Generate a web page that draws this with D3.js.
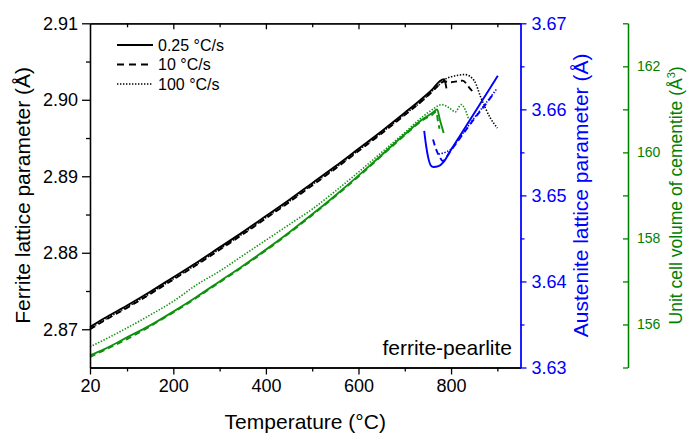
<!DOCTYPE html>
<html lang="en">
  <head>
    <meta charset="utf-8" />
    <title>Lattice parameters vs temperature</title>
    <script src="https://cdnjs.cloudflare.com/ajax/libs/d3/7.8.5/d3.min.js"></script>
    <style>
      body {
        margin: 0;
        background: #ffffff;
        font-family: Arial, "Liberation Sans", sans-serif;
      }
      svg text {
        font-family: Arial, "Liberation Sans", sans-serif;
      }
      .line {
        fill: none;
        stroke-linejoin: round;
      }
    </style>
  </head>
  <body>
    <div id="chart"></div>
    <script>
      // ferrite (left axis, black)
      const ferriteT025 = [20, 50, 100, 150, 200, 250, 300, 350, 400, 450, 500, 550, 600, 650, 700, 740, 760, 775, 785, 790];
      const ferrite025 = [2.8703, 2.8714, 2.8731, 2.8749, 2.8768, 2.8787, 2.8807, 2.8827, 2.8848, 2.8869, 2.8891, 2.8913, 2.8936, 2.8959, 2.8983, 2.9003, 2.9014, 2.9024, 2.9027, 2.9015];
      const ferriteT10 = [20, 50, 100, 150, 200, 250, 300, 350, 400, 450, 500, 550, 600, 650, 700, 740, 760, 775, 785, 800, 825, 838, 850];
      const ferrite10 = [2.87, 2.8711, 2.8728, 2.8746, 2.8765, 2.8784, 2.8804, 2.8824, 2.8845, 2.8866, 2.8888, 2.891, 2.8933, 2.8956, 2.898, 2.9, 2.9011, 2.902, 2.9024, 2.9023, 2.9025, 2.9017, 2.9008];
      const ferriteT100 = [20, 50, 100, 150, 200, 250, 300, 350, 400, 450, 500, 550, 600, 650, 700, 740, 760, 775, 785, 800, 815, 830, 850, 865, 885, 900];
      const ferrite100 = [2.8701, 2.8712, 2.8729, 2.8747, 2.8766, 2.8785, 2.8805, 2.8825, 2.8846, 2.8867, 2.8889, 2.8911, 2.8934, 2.8957, 2.8981, 2.9, 2.9012, 2.902, 2.9026, 2.903, 2.9032, 2.9033, 2.9025, 2.9002, 2.8976, 2.8963];

      // cementite unit cell volume (green axis)
      const cemT025 = [20, 50, 100, 150, 200, 250, 300, 350, 400, 450, 500, 550, 600, 650, 700, 740, 760, 770, 776, 784];
      const cem025 = [155.28, 155.42, 155.7, 155.98, 156.3, 156.64, 157.0, 157.36, 157.74, 158.14, 158.56, 159.0, 159.46, 159.94, 160.42, 160.78, 160.92, 161.0, 160.75, 160.45];
      const cemT10 = [20, 50, 100, 150, 200, 250, 300, 350, 400, 450, 500, 550, 600, 650, 700, 740, 760, 768, 772, 775];
      const cem10 = [155.24, 155.4, 155.66, 155.96, 156.28, 156.62, 156.98, 157.34, 157.72, 158.12, 158.54, 158.98, 159.44, 159.92, 160.4, 160.76, 160.88, 160.95, 160.7, 160.55];
      const cemT100 = [20, 50, 100, 150, 200, 250, 300, 350, 400, 450, 500, 550, 600, 650, 700, 740, 760, 780, 798, 809, 822, 831, 838];
      const cem100 = [155.48, 155.64, 155.92, 156.22, 156.54, 156.92, 157.24, 157.6, 157.96, 158.32, 158.68, 159.1, 159.54, 160.0, 160.46, 160.84, 161.0, 161.11, 161.02, 160.94, 161.11, 160.98, 160.77];

      // austenite (blue axis)
      const ausT025 = [742, 746, 751, 756, 762, 773, 784, 800, 820, 840, 860, 880, 901];
      const aus025 = [3.6575, 3.6558, 3.6543, 3.6535, 3.6533, 3.6534, 3.6539, 3.6553, 3.657, 3.6587, 3.6604, 3.6621, 3.6639];
      const ausT10 = [761, 766, 775, 782, 798, 820, 850, 875, 894];
      const aus10 = [3.6565, 3.6556, 3.6545, 3.654, 3.6551, 3.6567, 3.6589, 3.6606, 3.662];
      const ausT100 = [773, 787, 798, 820, 850, 875, 899];
      const aus100 = [3.6548, 3.655, 3.6553, 3.6568, 3.659, 3.6607, 3.6624];

      const xMajor = [20, 200, 400, 600, 800];
      const xMinor = [100, 300, 500, 700, 900];
      const ferriteTicks = [2.87, 2.88, 2.89, 2.9, 2.91];
      const ferriteMinor = [2.875, 2.885, 2.895, 2.905];
      const ausTicks = [3.63, 3.64, 3.65, 3.66, 3.67];
      const ausMinor = [3.635, 3.645, 3.655, 3.665];
      const cemTicks = [156, 158, 160, 162];
      const cemMinor = [155, 157, 159, 161, 163];

      const rates = ["0.25 °C/s", "10 °C/s", "100 °C/s"];
      const dashes = [null, "6,4", "1.4,1.6"];
      const widths = [1.9, 1.9, 1.6];

      const W = 688, H = 438;
      const mLeft = 90, mRight = 520.5, mTop = 23.3, mBottom = 367.5;
      const greenX = 628;
      const BLUE = "#0000ff", GREEN = "#008000", GREENLINE = "#0e920e";

      const svg = d3.select("#chart").append("svg").attr("width", W).attr("height", H);

      const x = d3.scaleLinear().domain([20, 950]).range([mLeft, mRight]);
      const yF = d3.scaleLinear().domain([2.865, 2.91]).range([mBottom, mTop]);
      const yA = d3.scaleLinear().domain([3.63, 3.67]).range([mBottom, mTop]);
      const yC = d3.scaleLinear().domain([155, 163]).range([mBottom, mTop]);

      function drawSeries(ts, vs, yScale, color, k) {
        const pts = ts.map((t, i) => [t, vs[i]]);
        const line = d3.line().x((d) => x(d[0])).y((d) => yScale(d[1])).curve(d3.curveMonotoneX);
        svg.append("path")
          .datum(pts)
          .attr("class", "line")
          .attr("d", line)
          .attr("stroke", color)
          .attr("stroke-width", widths[k])
          .attr("stroke-dasharray", dashes[k]);
      }

      drawSeries(ferriteT025, ferrite025, yF, "#000", 0);
      drawSeries(ferriteT10, ferrite10, yF, "#000", 1);
      drawSeries(ferriteT100, ferrite100, yF, "#000", 2);
      drawSeries(cemT025, cem025, yC, GREENLINE, 0);
      drawSeries(cemT10, cem10, yC, GREENLINE, 1);
      drawSeries(cemT100, cem100, yC, GREENLINE, 2);
      drawSeries(ausT025, aus025, yA, BLUE, 0);
      drawSeries(ausT10, aus10, yA, BLUE, 1);
      drawSeries(ausT100, aus100, yA, BLUE, 2);

      function styleAxis(g, color, size) {
        g.selectAll("path, line").attr("stroke", color).attr("stroke-width", 1.3);
        g.selectAll("text").attr("fill", color).style("font-size", size + "px");
      }

      // bottom axis
      const gx = svg.append("g").attr("transform", `translate(0,${mBottom})`)
        .call(d3.axisBottom(x).tickValues(xMajor).tickSize(7).tickSizeOuter(0).tickPadding(5));
      styleAxis(gx, "#000", 18);
      const gx2 = svg.append("g").attr("transform", `translate(0,${mBottom})`)
        .call(d3.axisBottom(x).tickValues(xMinor).tickSize(4).tickSizeOuter(0).tickFormat(""));
      styleAxis(gx2, "#000", 18);

      // top frame with inward ticks
      const gt = svg.append("g").attr("transform", `translate(0,${mTop})`)
        .call(d3.axisTop(x).tickValues(xMajor.slice(1)).tickSize(-6).tickSizeOuter(0).tickFormat(""));
      styleAxis(gt, "#000", 18);
      const gt2 = svg.append("g").attr("transform", `translate(0,${mTop})`)
        .call(d3.axisTop(x).tickValues(xMinor).tickSize(-4).tickSizeOuter(0).tickFormat(""));
      styleAxis(gt2, "#000", 18);

      // left ferrite axis
      const gl = svg.append("g").attr("transform", `translate(${mLeft},0)`)
        .call(d3.axisLeft(yF).tickValues(ferriteTicks).tickSize(8).tickSizeOuter(0).tickPadding(4).tickFormat(d3.format(".2f")));
      styleAxis(gl, "#000", 18);
      const gl2 = svg.append("g").attr("transform", `translate(${mLeft},0)`)
        .call(d3.axisLeft(yF).tickValues(ferriteMinor).tickSize(4).tickSizeOuter(0).tickFormat(""));
      styleAxis(gl2, "#000", 18);

      // right austenite axis (blue)
      const ga = svg.append("g").attr("transform", `translate(${mRight},0)`)
        .call(d3.axisRight(yA).tickValues(ausTicks).tickSize(6).tickSizeOuter(0).tickPadding(5).tickFormat(d3.format(".2f")));
      styleAxis(ga, BLUE, 18);
      const ga2 = svg.append("g").attr("transform", `translate(${mRight},0)`)
        .call(d3.axisRight(yA).tickValues(ausMinor).tickSize(4).tickSizeOuter(0).tickFormat(""));
      styleAxis(ga2, BLUE, 18);

      // cementite axis (green), ticks pointing left
      const gc = svg.append("g").attr("transform", `translate(${greenX},0)`)
        .call(d3.axisRight(yC).tickValues(cemTicks).tickSize(-5).tickSizeOuter(0).tickPadding(9));
      styleAxis(gc, GREEN, 14);
      const gc2 = svg.append("g").attr("transform", `translate(${greenX},0)`)
        .call(d3.axisRight(yC).tickValues(cemMinor).tickSize(-5).tickSizeOuter(0).tickFormat(""));
      styleAxis(gc2, GREEN, 14);

      // axis titles
      svg.append("text")
        .attr("transform", `translate(30,${(mTop + mBottom) / 2}) rotate(-90)`)
        .attr("text-anchor", "middle")
        .style("font-size", "21px")
        .text("Ferrite lattice parameter (Å)");

      svg.append("text")
        .attr("x", (mLeft + mRight) / 2)
        .attr("y", 429)
        .attr("text-anchor", "middle")
        .style("font-size", "21px")
        .text("Temperature (°C)");

      svg.append("text")
        .attr("transform", `translate(588,${(mTop + mBottom) / 2}) rotate(-90)`)
        .attr("text-anchor", "middle")
        .attr("fill", BLUE)
        .style("font-size", "21px")
        .text("Austenite lattice parameter (Å)");

      const ct = svg.append("text")
        .attr("transform", `translate(682,${(mTop + mBottom) / 2}) rotate(-90)`)
        .attr("text-anchor", "middle")
        .attr("fill", GREEN)
        .style("font-size", "17.5px");
      ct.append("tspan").text("Unit cell volume of cementite (Å");
      ct.append("tspan").attr("dy", -7).style("font-size", "11px").text("3");
      ct.append("tspan").attr("dy", 7).text(")");

      svg.append("text")
        .attr("x", 512)
        .attr("y", 355)
        .attr("text-anchor", "end")
        .style("font-size", "21px")
        .text("ferrite-pearlite");

      // legend
      const legend = svg.append("g");
      rates.forEach((r, i) => {
        const ly = 45 + i * 19.5;
        legend.append("line")
          .attr("x1", 117).attr("x2", 153)
          .attr("y1", ly).attr("y2", ly)
          .attr("stroke", "#000")
          .attr("stroke-width", widths[i])
          .attr("stroke-dasharray", i === 1 ? "7,5" : dashes[i]);
        legend.append("text")
          .attr("x", 158).attr("y", ly + 5.8)
          .style("font-size", "16px")
          .text(r);
      });
    </script>
  </body>
</html>
